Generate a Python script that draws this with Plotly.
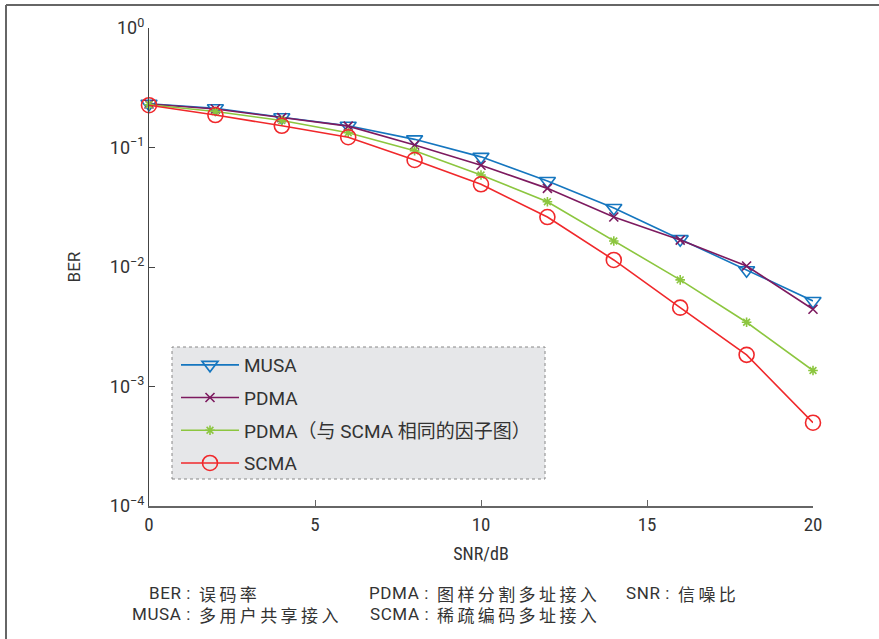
import plotly.graph_objects as go

snr = [0, 2, 4, 6, 8, 10, 12, 14, 16, 18, 20]
ber_musa = [0.232, 0.213, 0.179, 0.152, 0.117, 0.0835, 0.0525, 0.0312, 0.0171, 0.0094, 0.0052]
ber_pdma = [0.231, 0.210, 0.178, 0.151, 0.105, 0.0710, 0.0455, 0.0262, 0.0168, 0.0102, 0.00443]
ber_pdma_scma = [0.228, 0.200, 0.168, 0.133, 0.094, 0.0589, 0.0352, 0.0165, 0.0078, 0.00345, 0.00136]
ber_scma = [0.226, 0.187, 0.152, 0.122, 0.0786, 0.0492, 0.0262, 0.01145, 0.00457, 0.00184, 0.000498]

series_names = ["MUSA", "PDMA", "PDMA（与 SCMA 相同的因子图）", "SCMA"]
x_ticks = [0, 5, 10, 15, 20]
y_tickvals = [1e-4, 1e-3, 1e-2, 1e-1, 1]
y_ticktext = ["10<sup>−4</sup>", "10<sup>−3</sup>", "10<sup>−2</sup>", "10<sup>−1</sup>", "10<sup>0</sup>"]
x_title = "SNR/dB"
y_title = "BER"
notes_row1 = [("BER :", "误码率"), ("PDMA :", "图样分割多址接入"), ("SNR :", "信噪比")]
notes_row2 = [("MUSA :", "多用户共享接入"), ("SCMA :", "稀疏编码多址接入")]

W, H = 879, 639
L, R, T, B = 149, 813, 28, 506


def px(x):
    return (x - L) / (R - L)


def py(y):
    return (B - y) / (B - T)


styles = [
    dict(color="#1576bf", symbol="triangle-down-open", size=14),
    dict(color="#7d1a5f", symbol="x-thin-open", size=9),
    dict(color="#8cc63f", symbol="asterisk-open", size=8),
    dict(color="#f0282b", symbol="circle-open", size=15),
]
data = [ber_musa, ber_pdma, ber_pdma_scma, ber_scma]

fig = go.Figure()
for i, (name, ys, st) in enumerate(zip(series_names, data, styles)):
    fig.add_trace(go.Scatter(
        x=snr, y=ys, name=name, mode="lines+markers",
        line=dict(color=st["color"], width=1.6),
        marker=dict(symbol=st["symbol"], size=st["size"], color=st["color"],
                    line=dict(color=st["color"], width=1.6)),
        cliponaxis=False, legendgroup="g%d" % i,
    ))

font_main = "Roboto, 'Noto Sans CJK SC', sans-serif"
font_narrow = "'Liberation Sans Narrow', 'Roboto Condensed', 'Noto Sans CJK SC', sans-serif"

fig.update_layout(
    width=W, height=H,
    margin=dict(l=L, r=W - R, t=T, b=H - B),
    paper_bgcolor="white", plot_bgcolor="white",
    font=dict(family=font_main, size=17, color="#333333"),
    showlegend=True,
    legend=dict(
        x=px(176), y=py(346), xanchor="left", yanchor="top",
        bgcolor="rgba(0,0,0,0)", borderwidth=0,
        font=dict(family=font_main, size=19, color="#333333"),
        tracegroupgap=5, itemwidth=58, traceorder="grouped",
    ),
    xaxis=dict(
        range=[0, 20], tickvals=x_ticks, ticks="inside", ticklen=6,
        showline=True, linecolor="#666666", linewidth=2, tickcolor="#666666",
        showgrid=False, zeroline=False, mirror=False,
        tickfont=dict(family=font_narrow, size=19, color="#333333"),
        title=dict(text=x_title, font=dict(family=font_narrow, size=18, color="#333333"), standoff=13),
    ),
    yaxis=dict(
        type="log", range=[-4, 0], tickvals=y_tickvals, ticktext=y_ticktext,
        ticks="inside", ticklen=6,
        showline=True, linecolor="#444444", linewidth=1.2, tickcolor="#444444",
        showgrid=False, zeroline=False,
        tickfont=dict(family=font_main, size=18, color="#333333"),
        title=dict(text=y_title, font=dict(family=font_main, size=17, color="#333333"), standoff=24),
    ),
    shapes=[
        dict(type="rect", xref="paper", yref="paper",
             x0=px(172), x1=px(545), y0=py(479), y1=py(347),
             fillcolor="#e6e7e9", line=dict(color="#888888", width=1, dash="dot"), layer="below"),
        dict(type="line", xref="paper", yref="paper",
             x0=px(6), x1=px(6), y0=py(5), y1=py(660),
             line=dict(color="#666666", width=2)),
        dict(type="line", xref="paper", yref="paper",
             x0=px(6), x1=px(900), y0=py(5), y1=py(5),
             line=dict(color="#666666", width=2)),
    ],
)

annos = []
col_colon_x = [193, 431, 672]
for row, yrow in ((notes_row1, 593), (notes_row2, 614)):
    for j, (lab, txt) in enumerate(row):
        cx = col_colon_x[j]
        annos.append(dict(text='<span style="letter-spacing:0.6px">%s</span>' % lab,
                          x=px(cx), y=py(yrow), xref="paper", yref="paper",
                          xanchor="right", yanchor="middle", showarrow=False,
                          font=dict(family=font_main, size=17, color="#333333")))
        annos.append(dict(text='<span style="letter-spacing:3.4px">%s</span>' % txt,
                          x=px(cx + 4), y=py(yrow), xref="paper", yref="paper",
                          xanchor="left", yanchor="middle", showarrow=False,
                          font=dict(family="'Noto Sans CJK SC', sans-serif", size=17, color="#333333")))
fig.update_layout(annotations=annos)

fig.write_html(
    "out.html",
    config={"displayModeBar": False},
    post_script="document.body.style.margin='0';document.body.style.padding='0';",
)
